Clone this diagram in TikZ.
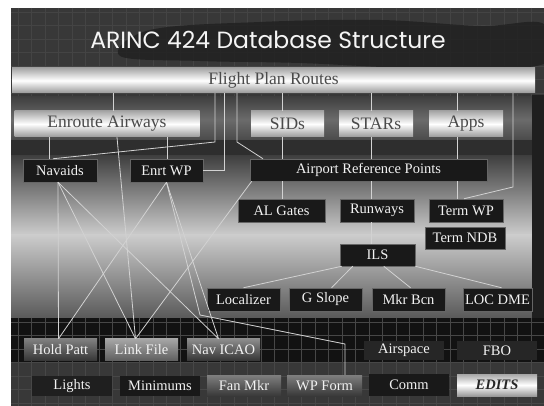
\documentclass[tikz,border=0pt]{standalone}
\usepackage{fontspec}
\setmainfont{Liberation Serif}
\newfontfamily\titlefont{Poppins}
\usetikzlibrary{calc}

\definecolor{slidebg}{HTML}{1C1C1C}
\definecolor{gridgray}{HTML}{444444}
\definecolor{linkgray}{HTML}{D2D2D2}
\definecolor{boxtext}{HTML}{4A4A4A}

\begin{document}
\begin{tikzpicture}[x=1pt, y=-1pt,
  whitebox/.style={inner sep=0pt, minimum height=26, top color=gray!70, bottom color=gray!80, middle color=white, text=boxtext, font=\fontsize{17.5}{18}\selectfont},
  darkbox/.style={inner sep=0pt, minimum width=73, minimum height=23, fill=black!90, draw=black!60, line width=0.5, text=black!5, font=\fontsize{14.5}{15}\selectfont},
  graybox/.style={darkbox, draw=none, top color=black!50, bottom color=black!78},
  ghostbox/.style={darkbox, draw=none, fill=black!85},
  link/.style={linkgray, line width=0.8}]
  \useasboundingbox (0,0) rectangle (544,406);
  % slide background
  \fill[white] (0,0) rectangle (544,406);
  \fill[slidebg] (11,8) rectangle (544,406);
  \fill[black!78] (11,8) rectangle (544,97);
  \foreach \gx in {18,31.5,...,544}
    \draw[gridgray, line width=0.5] (\gx,8) -- (\gx,97);
  \foreach \gy in {12,25.5,...,97}
    \draw[gridgray, line width=0.5] (11,\gy) -- (544,\gy);
  \fill[black!88, opacity=0.8] plot[smooth cycle, tension=0.6]
    coordinates {(150,30)(260,22)(380,20)(480,26)(544,24)(544,64)(420,68)(300,63)(200,61)(120,56)};
  % band behind the first row
  \shade[top color=black!75, bottom color=black!72, middle color=black!58] (11,97) rectangle (532,142);
  \fill[black!82] (11,140) rectangle (532,157);
  % grey band in the middle
  \shade[top color=black!75, bottom color=black!20] (11,156) rectangle (532,235);
  \shade[top color=black!20, bottom color=black!65] (11,235) rectangle (532,318);
  \fill[black!88] (532,95) rectangle (544,318);
  % bottom grid
  \fill[black!93] (11,318) rectangle (544,406);
  \fill[black!78] (11,362) rectangle (544,406);
  \foreach \gx in {18,31.5,...,544}
    \draw[black!72, line width=0.5] (\gx,318) -- (\gx,406);
  \foreach \gy in {322,335.5,...,406}
    \draw[black!72, line width=0.5] (11,\gy) -- (544,\gy);

  % title
  \node[text=black!4, font=\titlefont\fontsize{23.5}{26}\selectfont] (title) at (268,40) {ARINC 424 Database Structure};

  % white bars
  \node[whitebox, minimum width=523, minimum height=25] (routes) at (273.5,80.5) {Flight Plan Routes};
  \node[whitebox, minimum width=185] (enroute) at (107,124) {Enroute Airways};
  \node[whitebox, minimum width=73] (sids) at (287.5,124) {SIDs};
  \node[whitebox, minimum width=74] (stars) at (376,124) {STARs};
  \node[whitebox, minimum width=74] (apps) at (466,124) {Apps};

  % dark boxes
  \node[darkbox, minimum width=74] (navaids) at (60,170.5) {Navaids};
  \node[darkbox] (enrtwp) at (166.5,170.5) {Enrt WP};
  \node[darkbox, minimum width=237, minimum height=22] (arp) at (368.5,170) {Airport Reference Points};
  \node[darkbox, minimum width=87] (algates) at (281.5,210.5) {AL Gates};
  \node[darkbox, minimum width=74] (runways) at (377,210.5) {Runways};
  \node[darkbox, minimum width=74] (termwp) at (466,210.5) {Term WP};
  \node[darkbox, minimum width=80, minimum height=22] (termndb) at (465,238) {Term NDB};
  \node[darkbox, minimum width=75, minimum height=22] (ils) at (377.5,255) {ILS};
  \node[darkbox] (loc) at (243.5,299.5) {Localizer};
  \node[darkbox] (gslope) at (325.5,299.5) {G Slope};
  \node[darkbox] (mkrbcn) at (408.5,299.5) {Mkr Bcn};
  \node[darkbox, minimum width=69] (locdme) at (497.5,299.5) {LOC DME};

  % bottom rows
  \node[graybox, minimum height=21] (hold) at (60.5,349.5) {Hold Patt};
  \node[graybox, minimum height=21, top color=black!35, bottom color=black!62] (link) at (141.5,349.5) {Link File};
  \node[graybox, minimum height=21, top color=black!45] (navicao) at (223.5,349.5) {Nav ICAO};
  \node[ghostbox, minimum width=80, minimum height=18] (airspace) at (404,350.5) {Airspace};
  \node[ghostbox, minimum width=80, minimum height=18] (fbo) at (497,350.5) {FBO};
  \node[ghostbox, minimum width=80, minimum height=20, fill=black!88] (lights) at (72,386) {Lights};
  \node[darkbox, minimum width=80, minimum height=20, draw=none] (minimums) at (160,386) {Minimums};
  \node[graybox, minimum width=74, minimum height=21] (fanmkr) at (244,385.5) {Fan Mkr};
  \node[graybox, minimum width=75, minimum height=21] (wpform) at (324.5,385.5) {WP Form};
  \node[darkbox, minimum width=80, minimum height=22, draw=none] (comm) at (409,385) {Comm};
  \node[whitebox, minimum width=80, minimum height=22, text=black!85,
        font=\fontsize{14.5}{15}\selectfont\bfseries\itshape] (edits) at (497,385) {EDITS};

  % links from the route bar
  \draw[link] (113,0 |- routes.south) -- (113,0 |- enroute.north);
  \draw[link] (215,0 |- routes.south) -- (215,142) -- (53,0 |- navaids.north);
  \draw[link] (224,0 |- routes.south) -- (224,0 |- enrtwp.east) -- (enrtwp.east);
  \draw[link] (237,0 |- routes.south) -- (237,142) -- (263,0 |- arp.north);
  \draw[link] (513,0 |- routes.south) -- (513,187) -- (464,0 |- termwp.north);
  \foreach \x/\u/\v in {282/routes/sids, 282/sids/arp, 282/arp/algates,
      371/routes/stars, 371/stars/arp, 371/arp/runways, 371/runways/ils,
      457/routes/apps, 457/apps/arp, 457/arp/termwp,
      49/enroute/navaids, 167/enroute/enrtwp}
    \draw[link] (\x,0 |- \u.south) -- (\x,0 |- \v.north);
  % crossing links
  \draw[link] (117,0 |- enroute.south) -- ([xshift=-6]link.north);
  \draw[link] ([xshift=-2]navaids.south) -- ([xshift=-2]hold.north);
  \draw[link] ([xshift=-2]navaids.south) -- ([xshift=-6]link.north);
  \draw[link] ([xshift=-2]navaids.south) -- ([xshift=-5]navicao.north);
  \draw[link] (enrtwp.south) -- ([xshift=-2]hold.north);
  \draw[link] (enrtwp.south) -- ([xshift=-5]navicao.north);
  \draw[link] (enrtwp.south) -- (200,315) -- (345,344) -- (345,0 |- wpform.north);
  \draw[link] ([xshift=2]arp.south west) -- ([xshift=-6]link.north);
  % ILS links
  \draw[link] ([xshift=2]ils.south west) -- (loc.north);
  \draw[link] ([xshift=13]ils.south west) -- ([xshift=6]gslope.north);
  \draw[link] ([xshift=44]ils.south west) -- ([xshift=2]mkrbcn.north);
  \draw[link] (ils.south east) -- ([xshift=4]locdme.north);
\end{tikzpicture}
\end{document}
